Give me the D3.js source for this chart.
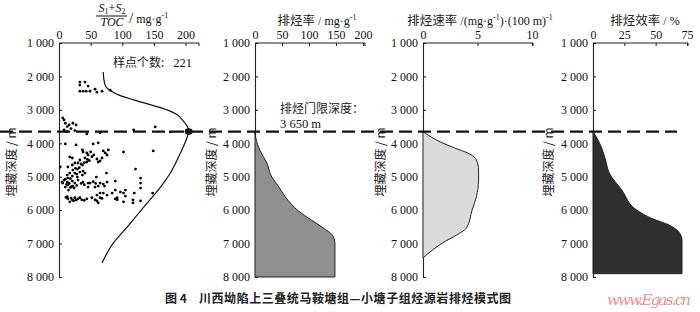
<!DOCTYPE html>
<meta charset="utf-8">
<style>
  body { margin: 0; background: #fff; }
  .tick text { font-family: "Liberation Serif", serif; font-size: 12px; fill: #111; }
  .domain, .tick line { stroke: #222; stroke-width: 1.1; }
  .cjk { font-family: "Noto Sans CJK SC", sans-serif; fill: #222; }
  .ser { font-family: "Liberation Serif", serif; fill: #111; }
</style>
<body>
<svg id="chart" width="700" height="312"></svg>
<script src="https://d3js.org/d3.v7.min.js"></script>
<script>

////*Data*////
const depthTicks = [1000, 2000, 3000, 4000, 5000, 6000, 7000, 8000];
const ratioTicks = [0, 50, 100, 150, 200];
const rateTicks = [0, 50, 100, 150, 200];
const speedTicks = [0, 5, 10];
const effTicks = [0, 25, 50, 75];
const thresholdDepth = 3650;
const sampleCount = 221;

// (S1+S2)/TOC samples: [value, depth]
const samples = [
  [33,2170],[41,2170],[33,2260],[46,2290],[38,2440],[33,2440],[43,2440],[49,2440],[57,2380],[60,2470],[68,2440],[81,2410],
  [6,3240],[8,3300],[10,3400],[13,3500],[16,3450],[22,3400],[19,3560],[10,3650],[25,3620],[27,3450],[13,3650],[8,3600],
  [44,3720],[65,3690],[118,3600],[152,3510],[176,3660],
  [10,4020],[27,4050],[54,4020],[62,3990],[70,4230],[78,4200],[102,4260],[149,4230],
  [17,4410],[21,4440],[37,4200],[38,4260],[44,4290],[46,4350],[41,4440],[33,4500],[30,4590],[25,4590],[21,4650],[37,4650],
  [44,4560],[60,4470],[62,4560],[65,4530],[68,4440],[76,4350],[73,4290],
  [14,4710],[22,4800],[29,4770],[33,4860],[38,4830],[25,4890],[17,4890],[13,4950],[21,4980],[29,5010],[37,4950],[41,4890],
  [14,5040],[10,5070],[5,5160],[13,5160],[21,5130],[25,5190],[6,5190],[14,5250],[22,5280],[10,5310],[2,4710],
  [38,5160],[46,5190],[49,5190],[57,5310],[62,5280],[65,5190],[70,5220],[76,5160],[75,4890],[59,5010],[89,5130],
  [121,4770],[129,5040],[129,5190],[129,5340],[119,5490],[89,5400],[84,5490],[97,5460],[105,5400],[102,5490],[105,5580],
  [117,5690],[129,5720],[148,5490],[92,5630],[76,5550],[65,5490],[60,5550],[70,5490],[46,5310],
  [13,5600],[14,5660],[21,5690],[25,5630],[17,5750],[30,5660],[33,5630],[44,5660],[52,5630],[60,5720],[62,5780],[65,5630],
  [89,5660],[92,5690],[102,5750],[117,5780],
  [8,5100],[12,5230],[18,5060],[16,5200],[20,5300],[28,4920],[32,4730],[35,4620],[40,4580],[45,4480],[48,4520],[52,4400],
  [55,4350],[50,4260],[26,4750],[30,5100],[35,5200],[40,5240],[28,5260],[18,5320],[24,5340],[15,5400],[11,5620],[19,5640],
  [23,5720],[27,5700],[36,5690],[40,5710],[57,5690],[68,5650],[72,5280],[58,5200],[54,5150]
];

// envelope curve of (S1+S2)/TOC
const envelope = [
  [70,1870],[71,2100],[74,2300],[81,2420],[95,2560],[118,2700],[145,2850],[171,3000],[187,3150],[196,3320],
  [203,3500],[205,3650],[202,3850],[193,4250],[176,4890],[163,5250],[150,5550],[130,6000],[108,6500],[86,6980],[68,7580]
];

// expulsion rate (mg/g)
const expRate = [
  [0,3650],[3,3950],[12,4300],[22,4590],[31,5010],[44,5300],[56,5600],[80,6020],[105,6300],[126,6530],[143,6740],[148,6990],[148,8000]
];
// expulsion speed (mg/g per 100 m)
const expSpeed = [
  [0,3650],[1.6,3960],[2.9,4140],[4.1,4290],[4.9,4500],[5.1,4800],[5.1,5100],[4.9,5600],[4.5,6000],[4.0,6530],[3.1,6740],[1.8,6980],[0,7430]
];
// expulsion efficiency (%)
const expEff = [
  [0,3650],[4,3900],[7,4150],[10,4500],[13,4890],[23,5400],[35,6000],[47,6250],[61,6450],[69,6680],[71,6900],[71,7900]
];

////*Scales*////
const svg = d3.select("#chart");
const y = d3.scaleLinear().domain([1000, 8000]).range([43, 277]);
const depthFmt = d => d3.format(",")(d).replace(",", " ");

const x1 = d3.scaleLinear().domain([0, 200]).range([59, 185.5]);
const x2 = d3.scaleLinear().domain([0, 200]).range([255, 363]);
const x3 = d3.scaleLinear().domain([0, 10]).range([423, 532]);
const x4 = d3.scaleLinear().domain([0, 75]).range([593, 687]);

function drawAxes(xs, ticks, xEnd) {
  const left = xs.range()[0];
  svg.append("g")
    .attr("transform", `translate(${left},0)`)
    .call(d3.axisLeft(y).tickValues(depthTicks).tickFormat(depthFmt)
      .tickSize(-3).tickSizeOuter(0).tickPadding(5));
  const g = svg.append("g")
    .attr("transform", `translate(0,${y(1000)})`)
    .call(d3.axisTop(xs).tickValues(ticks).tickSize(-3).tickSizeOuter(0).tickPadding(4));
  g.select(".domain").attr("d", `M${left},0H${xEnd}`);
  g.append("line").attr("x1", xEnd).attr("x2", xEnd).attr("y1", 0).attr("y2", 3)
    .attr("stroke", "#222");
  g.selectAll(".tick").filter(d => d === 0).select("line").remove();
}
drawAxes(x1, ratioTicks, 199);
drawAxes(x2, rateTicks, 365);
drawAxes(x3, speedTicks, 533);
drawAxes(x4, effTicks, 688);

////*Y titles*////
[12, 212, 381, 549].forEach(cx => {
  svg.append("text").attr("class", "cjk")
    .attr("transform", `translate(${cx + 4},162) rotate(-90)`)
    .attr("text-anchor", "middle")
    .style("font-size", "12px")
    .text("埋藏深度 / m");
});

////*Panel 1: samples and envelope*////
svg.append("g").selectAll("circle")
  .data(samples)
  .join("circle")
  .attr("cx", d => x1(d[0]))
  .attr("cy", d => y(d[1]))
  .attr("r", 1.4)
  .attr("fill", "#000");

svg.append("path")
  .datum(envelope)
  .attr("fill", "none")
  .attr("stroke", "#111")
  .attr("stroke-width", 1.2)
  .attr("d", d3.line().x(d => x1(d[0])).y(d => y(d[1])).curve(d3.curveMonotoneY));

////*Panels 2-4: filled profiles*////
function drawArea(xs, data, fill) {
  svg.append("path")
    .datum(data)
    .attr("fill", fill)
    .attr("stroke", "#222")
    .attr("stroke-width", 1)
    .attr("d", d3.area().y(d => y(d[1])).x0(xs(0)).x1(d => xs(d[0])).curve(d3.curveMonotoneY));
}
drawArea(x2, expRate, "#8f8f8f");
drawArea(x3, expSpeed, "#dadada");
drawArea(x4, expEff, "#2f2f2f");

////*Threshold line and labels*////
svg.append("line")
  .attr("x1", 0).attr("x2", 677)
  .attr("y1", y(thresholdDepth)).attr("y2", y(thresholdDepth))
  .attr("stroke", "#111")
  .attr("stroke-width", 2.3)
  .attr("stroke-dasharray", "13,6");

svg.append("ellipse")
  .attr("cx", x1(205)).attr("cy", y(thresholdDepth))
  .attr("rx", 4).attr("ry", 3.3)
  .attr("fill", "#111");

svg.append("text").attr("class", "cjk")
  .attr("x", 113).attr("y", 67)
  .style("font-size", "12px")
  .text("样点个数:");
svg.append("text").attr("class", "ser")
  .attr("x", 192).attr("y", 67)
  .attr("text-anchor", "end")
  .style("font-size", "12.5px")
  .text(sampleCount);

svg.append("text").attr("class", "cjk")
  .attr("x", 280).attr("y", 113)
  .style("font-size", "12px")
  .text("排烃门限深度：");
svg.append("text").attr("class", "ser")
  .attr("x", 280).attr("y", 128)
  .style("font-size", "12.5px")
  .text("3 650 m");

////*Top titles*////
const t1 = svg.append("g").attr("class", "ser").style("font-size", "12px");
const num = t1.append("text").attr("x", 112).attr("y", 12).attr("text-anchor", "middle").style("font-style", "italic");
num.append("tspan").text("S");
num.append("tspan").attr("dy", 2).style("font-size", "8px").style("font-style", "normal").text("1");
num.append("tspan").attr("dy", -2).style("font-style", "normal").text("+");
num.append("tspan").text("S");
num.append("tspan").attr("dy", 2).style("font-size", "8px").style("font-style", "normal").text("2");
t1.append("line").attr("x1", 96).attr("x2", 127).attr("y1", 16).attr("y2", 16).attr("stroke", "#111");
t1.append("text").attr("x", 112).attr("y", 26).attr("text-anchor", "middle").style("font-style", "italic").text("TOC");
const u1 = t1.append("text").attr("x", 129).attr("y", 23);
u1.append("tspan").style("font-size", "15px").text("/");
u1.append("tspan").text(" mg·g");
u1.append("tspan").attr("dy", -5).style("font-size", "8px").text("-1");

function title(cx, cjk, unit, sup, tail) {
  const t = svg.append("text").attr("x", cx).attr("y", 25).attr("text-anchor", "middle");
  t.append("tspan").attr("class", "cjk").style("font-size", "12.5px").text(cjk);
  t.append("tspan").attr("class", "ser").style("font-size", "12px").text(unit);
  if (sup) t.append("tspan").attr("class", "ser").attr("dy", -5).style("font-size", "8px").text(sup);
  if (tail) {
    t.append("tspan").attr("class", "ser").attr("dy", 5).style("font-size", "12px").text(tail[0]);
    t.append("tspan").attr("class", "ser").attr("dy", -5).style("font-size", "8px").text(tail[1]);
  }
}
title(317, "排烃率", " / mg·g", "-1");
title(480, "排烃速率", " /(mg·g", "-1", [")·(100 m)", "-1"]);
title(645, "排烃效率", " / %");

////*Caption and mark*////
const cap = svg.append("text").attr("class", "cjk")
  .attr("y", 303)
  .style("font-size", "12px").style("font-weight", "bold");
cap.append("tspan").attr("x", 165).text("图 4");
cap.append("tspan").attr("x", 199).style("letter-spacing", "0.55px")
  .text("川西坳陷上三叠统马鞍塘组—小塘子组烃源岩排烃模式图");

svg.append("text")
  .attr("x", 607).attr("y", 305)
  .attr("textLength", 84)
  .style("font-family", "DejaVu Serif")
  .style("font-style", "italic")
  .style("font-size", "15px")
  .attr("fill", "#ef8f8f")
  .text("www.Egas.cn");

</script>
</body>
